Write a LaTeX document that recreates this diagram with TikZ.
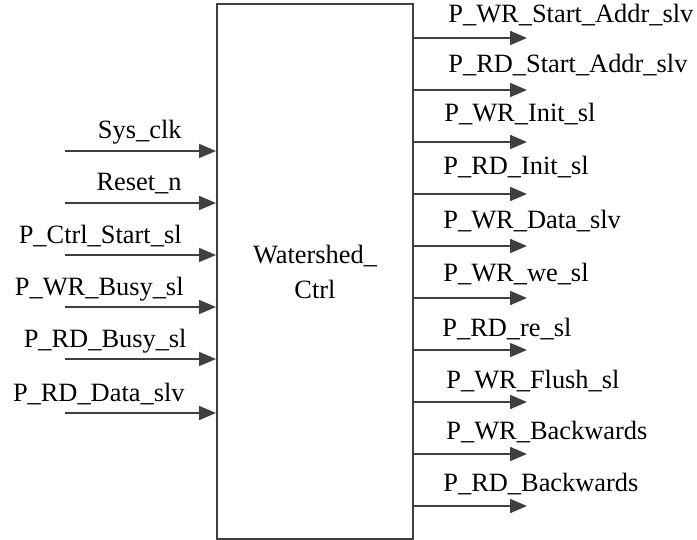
\documentclass[tikz,border=0pt]{standalone}
\usepackage{fontspec}
\setmainfont{Liberation Serif}
\usepackage{xcolor}
\usepackage{tikz}
\usetikzlibrary{arrows.meta,positioning,calc}

\definecolor{wire}{HTML}{404040}

\begin{document}
\begin{tikzpicture}[
x=0.5pt, y=-0.5pt,
blk/.style={draw=wire, line width=1pt, minimum width=98pt, minimum height=267.5pt, align=center, font=\fontsize{13.2pt}{17.5pt}\selectfont},
lbl/.style={inner sep=0pt, anchor=base east, font=\fontsize{13.2pt}{15pt}\selectfont},
rlbl/.style={inner sep=0pt, anchor=base west, font=\fontsize{13.2pt}{15pt}\selectfont},
arr/.style={-{Triangle[length=8.5pt,width=7pt]}, draw=wire, fill=wire, line width=0.9pt}
]
\useasboundingbox (0,0) rectangle (697,540);

\node[blk] (ctrl) at (315,271.5) {Watershed\_\\Ctrl};

% inputs
\coordinate (sysclk) at (65,151);
\coordinate (reset) at (65,203);
\coordinate (ctrlstart) at (65,255);
\coordinate (wrbusy) at (65,307);
\coordinate (rdbusy) at (65,359);
\coordinate (rddata) at (65,413);

\node[lbl] (sysclkl) at (182,139) {Sys\_clk};
\node[lbl] (resetl) at (182,191) {Reset\_n};
\node[lbl] (ctrlstartl) at (182,243) {P\_Ctrl\_Start\_sl};
\node[lbl] (wrbusyl) at (184,295) {P\_WR\_Busy\_sl};
\node[lbl] (rdbusyl) at (187,347) {P\_RD\_Busy\_sl};
\node[lbl] (rddatal) at (185,401) {P\_RD\_Data\_slv};

\draw[arr] (sysclk) -- (sysclk -| ctrl.west);
\draw[arr] (reset) -- (reset -| ctrl.west);
\draw[arr] (ctrlstart) -- (ctrlstart -| ctrl.west);
\draw[arr] (wrbusy) -- (wrbusy -| ctrl.west);
\draw[arr] (rdbusy) -- (rdbusy -| ctrl.west);
\draw[arr] (rddata) -- (rddata -| ctrl.west);

% outputs
\coordinate (wraddr) at (527,38);
\coordinate (rdaddr) at (527,90);
\coordinate (wrinit) at (527,142);
\coordinate (rdinit) at (527,194);
\coordinate (wrdata) at (527,246);
\coordinate (wrwe) at (527,298);
\coordinate (rdre) at (527,350);
\coordinate (wrflush) at (527,402);
\coordinate (wrback) at (527,454);
\coordinate (rdback) at (527,506);

\node[rlbl] (wraddrl) at (448,23) {P\_WR\_Start\_Addr\_slv};
\node[rlbl] (rdaddrl) at (448,73) {P\_RD\_Start\_Addr\_slv};
\node[rlbl] (wrinitl) at (444,122) {P\_WR\_Init\_sl};
\node[rlbl] (rdinitl) at (443,175) {P\_RD\_Init\_sl};
\node[rlbl] (wrdatal) at (443,228) {P\_WR\_Data\_slv};
\node[rlbl] (wrwel) at (443,282) {P\_WR\_we\_sl};
\node[rlbl] (rdrel) at (442,336) {P\_RD\_re\_sl};
\node[rlbl] (wrflushl) at (446,388) {P\_WR\_Flush\_sl};
\node[rlbl] (wrbackl) at (446,439) {P\_WR\_Backwards};
\node[rlbl] (rdbackl) at (443,491) {P\_RD\_Backwards};

\draw[arr] (wraddr -| ctrl.east) -- (wraddr);
\draw[arr] (rdaddr -| ctrl.east) -- (rdaddr);
\draw[arr] (wrinit -| ctrl.east) -- (wrinit);
\draw[arr] (rdinit -| ctrl.east) -- (rdinit);
\draw[arr] (wrdata -| ctrl.east) -- (wrdata);
\draw[arr] (wrwe -| ctrl.east) -- (wrwe);
\draw[arr] (rdre -| ctrl.east) -- (rdre);
\draw[arr] (wrflush -| ctrl.east) -- (wrflush);
\draw[arr] (wrback -| ctrl.east) -- (wrback);
\draw[arr] (rdback -| ctrl.east) -- (rdback);
\end{tikzpicture}
\end{document}
